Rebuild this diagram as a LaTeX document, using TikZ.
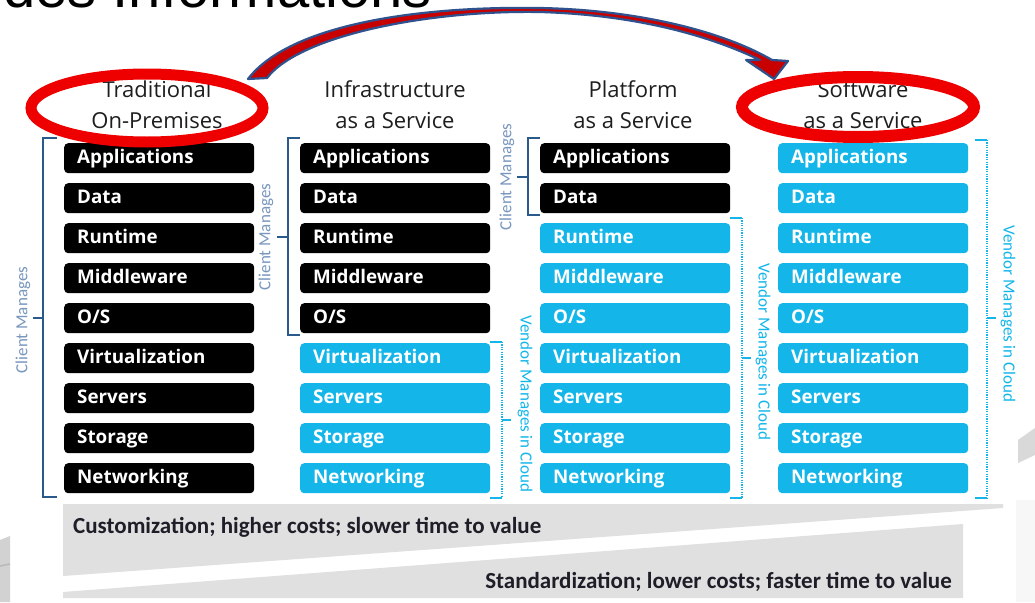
\documentclass[tikz,border=0pt]{standalone}
\usepackage{fontspec}
\setmainfont{Open Sans}
\newfontfamily\calib{Carlito}
\newfontfamily\arialf{Liberation Sans}
\usetikzlibrary{shapes.geometric}
\definecolor{cy}{RGB}{20,182,234}
\definecolor{brk}{RGB}{40,90,140}
\definecolor{clc}{RGB}{120,150,190}
\definecolor{hdrc}{RGB}{30,30,30}
\definecolor{txtc}{RGB}{30,30,40}
\definecolor{bandc}{RGB}{224,224,224}
\definecolor{ringred}{RGB}{238,0,0}
\definecolor{arrred}{RGB}{200,0,0}
\definecolor{arrblue}{RGB}{47,82,143}
\tikzset{
  box/.style={rounded corners=4pt, minimum height=30pt, text width=164pt, inner xsep=13pt, inner ysep=0pt,
    text height=14pt, text depth=4pt, align=left, font=\fontsize{18.8}{20}\selectfont\bfseries, text=white, anchor=north west},
  dark/.style={box, fill=black},
  cyanbox/.style={box, fill=cy},
  hdr/.style={anchor=base, font=\fontsize{22}{24}\selectfont, text=hdrc, inner sep=0pt},
  cbr/.style={draw=brk, line width=2pt},
  vbr/.style={draw=cy, line width=1.4pt, dash pattern=on 1.2pt off 1.2pt},
  vtick/.style={draw=cy, line width=1.4pt},
  clab/.style={font=\calib\fontsize{17}{18}\selectfont, text=clc, inner sep=0pt},
  vlab/.style={font=\calib\fontsize{17}{18}\selectfont, text=cy, inner sep=0pt},
  ring/.style={draw=ringred, ellipse, inner sep=0pt},
  bottomtxt/.style={font=\calib\bfseries\fontsize{23}{25}\selectfont, text=txtc, inner sep=0pt}
}
\begin{document}
\begin{tikzpicture}[x=1pt,y=-1pt]
\useasboundingbox (0,0) rectangle (1035,602);
\clip (0,0) rectangle (1035,602);
\fill[white] (0,0) rectangle (1035,602);

% cut title at top
\node[anchor=base west, font=\arialf\fontsize{58}{60}\selectfont, inner sep=0pt] (ttl) at (3,8) {des Informations};

% decorative slide shapes
\fill[gray!35] (0,540) -- (10,536) -- (10,602) -- (0,602) -- cycle;
\draw[gray!55, line width=1.5pt] (0,566) -- (10,564);
\fill[gray!30] (1018,440) -- (1035,428) -- (1035,455) -- (1018,463) -- cycle;
\fill[gray!6] (1016,500) rectangle (1035,602);

% bottom band
\fill[bandc] (63,504) -- (1003,504) -- (1003,508) -- (63,576) -- cycle;
\fill[bandc] (63,592) -- (963,524) -- (963,598) -- (63,598) -- cycle;
\node[bottomtxt, anchor=base west] (t1) at (73,533) {Customization; higher costs; slower time to value};
\node[bottomtxt, anchor=base east] (t2) at (952,588) {Standardization; lower costs; faster time to value};

% headers
\node[hdr] (h1a) at (157,97) {Traditional};
\node[hdr] (h1b) at (157,128) {On-Premises};
\node[hdr] (h2a) at (395,97) {Infrastructure};
\node[hdr] (h2b) at (395,128) {as a Service};
\node[hdr] (h3a) at (633,97) {Platform};
\node[hdr] (h3b) at (633,128) {as a Service};
\node[hdr] (h4a) at (863,97) {Software};
\node[hdr] (h4b) at (863,128) {as a Service};

% boxes
\foreach \t [count=\i from 0] in {Applications,Data,Runtime,Middleware,O/S,Virtualization,Servers,Storage,Networking}{
  \pgfmathsetmacro\yy{143+40*\i}
  \ifnum\i<5 \def\sb{dark}\else\def\sb{cyanbox}\fi
  \ifnum\i<2 \def\sc{dark}\else\def\sc{cyanbox}\fi
  \node[dark] (a\i) at (64,\yy) {\t};
  \node[\sb] (b\i) at (300,\yy) {\t};
  \node[\sc] (c\i) at (540,\yy) {\t};
  \node[cyanbox] (d\i) at (778,\yy) {\t};
}

% brackets: column 1
\draw[cbr] (57,138) -- (43,138) -- (43,497) -- (57,497);
\draw[cbr] (43,318) -- (33,318);
\node[clab, rotate=90] (cl1) at (23,320) {Client Manages};
% column 2
\draw[cbr] (300,138) -- (288,138) -- (288,335) -- (300,335);
\draw[cbr] (288,237) -- (277,237);
\node[clab, rotate=90] (cl2) at (266,237) {Client Manages};
\draw[vtick] (490,342) -- (502,342);
\draw[vtick] (490,498) -- (502,498);
\draw[vbr] (502,342) -- (502,498);
\draw[vtick] (502,420) -- (511,420);
\node[vlab, rotate=-90] (vl2) at (525,404) {Vendor Manages in Cloud};
% column 3
\draw[cbr] (540,138) -- (528,138) -- (528,215) -- (540,215);
\draw[cbr] (528,177) -- (517,177);
\node[clab, rotate=90] (cl3) at (507,177) {Client Manages};
\draw[vtick] (730,218) -- (742,218);
\draw[vtick] (730,498) -- (742,498);
\draw[vbr] (742,218) -- (742,498);
\draw[vtick] (742,358) -- (751,358);
\node[vlab, rotate=-90] (vl3) at (763,352) {Vendor Manages in Cloud};
% column 4
\draw[vtick] (975,140) -- (987,140);
\draw[vtick] (975,498) -- (987,498);
\draw[vbr] (987,140) -- (987,498);
\draw[vtick] (987,318) -- (996,318);
\node[vlab, rotate=-90] (vl4) at (1008,314) {Vendor Manages in Cloud};

% red rings
\node[ring, line width=11pt, minimum width=232pt, minimum height=68pt] (e1) at (147,108) {};
\node[ring, line width=12pt, minimum width=232pt, minimum height=60pt] (e2) at (858,107) {};

% curved block arrow
\filldraw[fill=arrred, draw=arrblue, line width=2.2pt, line join=round]
  (248,79) .. controls (290,24) and (420,6) .. (540,8)
  .. controls (640,10) and (724,32) .. (772,60)
  -- (788,61) -- (774,79) -- (746,60) -- (760,60)
  .. controls (712,37) and (640,15) .. (540,12)
  .. controls (430,10) and (300,35) .. (267,78) -- cycle;
\end{tikzpicture}
\end{document}
